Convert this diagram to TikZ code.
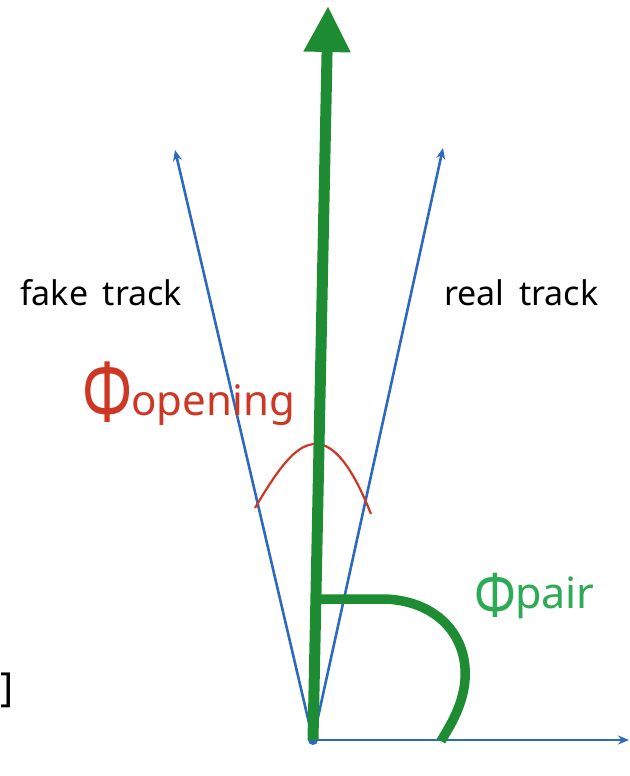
\documentclass[tikz,border=0pt]{standalone}
\usepackage{fontspec}
\usepackage{graphicx}
\setmainfont{Noto Sans}
\usetikzlibrary{arrows.meta}
\definecolor{tblue}{RGB}{45,105,190}
\definecolor{tgreen}{RGB}{30,140,50}
\definecolor{lgreen}{RGB}{45,170,85}
\definecolor{tred}{RGB}{205,55,35}
\tikzset{
  track/.style={tblue, line width=2.6pt, -{Stealth[length=11pt,width=9pt]}},
  pairline/.style={tgreen, line width=11pt, -{Triangle[length=46pt,width=44pt]}},
  lbl/.style={inner sep=0pt, font=\fontsize{34}{38}\selectfont},
}
\begin{document}
\begin{tikzpicture}[x=1pt,y=-1pt]
\useasboundingbox (0,0) rectangle (629,776);
\coordinate (O) at (313,740);
\coordinate (L) at (175,150);
\coordinate (R) at (443,148);
\coordinate (X) at (629,740);
\coordinate (T) at (328,6);
\draw[track] (O) -- (L);
\draw[track] (O) -- (R);
\draw[track] (O) -- (X);
\fill[tblue] (O) circle (5);
\draw[tred, line width=2.2pt] (255,508) .. controls (282,462) and (298,444) .. (316,444) .. controls (334,444) and (352,466) .. (371,514);
\draw[pairline] (O) -- (T);
\draw[tgreen, line width=9.5pt] (316,599) -- (385,599) .. controls (440,601) and (472,640) .. (464,688) .. controls (460,710) and (450,726) .. (441,741);
\node[lbl, anchor=west] (fake) at (20,293) {fake\, track};
\node[lbl, anchor=west] (real) at (444,293) {real\, track};
\node[inner sep=0pt, anchor=base west, text=tred] (open) at (82,415) {\raisebox{-7pt}{\fontsize{85}{90}\selectfont\scalebox{0.7}[1]{Φ}}\hspace{-1pt}{\fontsize{42}{46}\selectfont opening}};
\node[inner sep=0pt, anchor=base west, text=lgreen] (pair) at (474,608) {\raisebox{-9pt}{\fontsize{62}{66}\selectfont\scalebox{0.8}[1]{Φ}}\hspace{-1pt}{\fontsize{43}{46}\selectfont pair}};
\node[inner sep=0pt, anchor=west, font=\fontsize{40}{44}\selectfont] (br) at (0,690) {]};
\end{tikzpicture}
\end{document}
